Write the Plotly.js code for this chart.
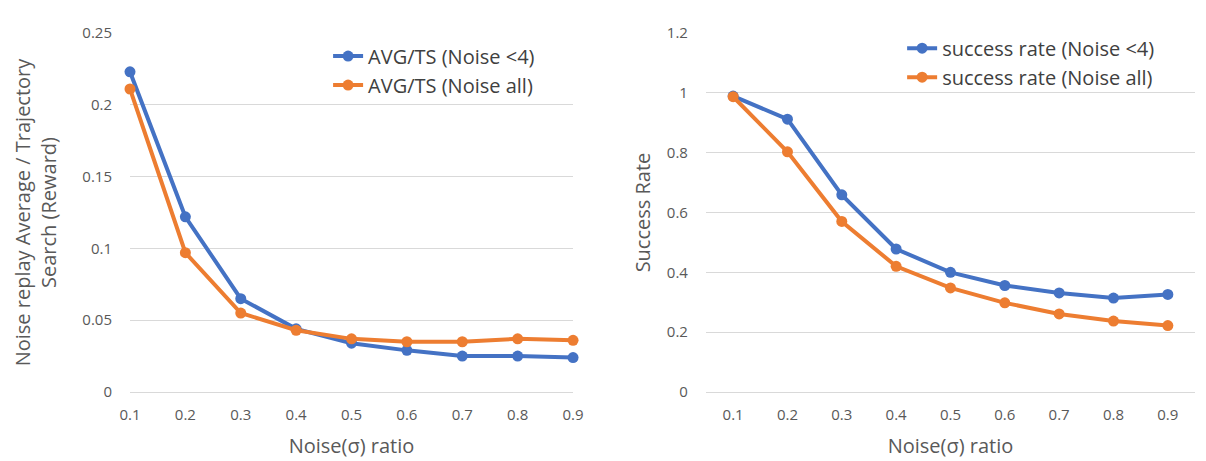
<!DOCTYPE html>
<html>
<head>
<meta charset="utf-8">
<script src="https://cdn.plot.ly/plotly-3.0.1.min.js"></script>
<style>
  html, body { margin: 0; padding: 0; background: #fff; }
  #chart { width: 1206px; height: 461px; }
</style>
</head>
<body>
<div id="chart"></div>
<script>
// Noise (sigma) ratio on both panels
const noiseRatio = [0.1, 0.2, 0.3, 0.4, 0.5, 0.6, 0.7, 0.8, 0.9];
const xTickText = ["0.1", "0.2", "0.3", "0.4", "0.5", "0.6", "0.7", "0.8", "0.9"];

// Left panel: noise replay average / trajectory search reward
const avgTsNoiseLt4 = [0.223, 0.122, 0.065, 0.044, 0.034, 0.029, 0.025, 0.025, 0.024];
const avgTsNoiseAll = [0.211, 0.097, 0.055, 0.043, 0.037, 0.035, 0.035, 0.037, 0.036];

// Right panel: success rate
const successNoiseLt4 = [0.989, 0.912, 0.659, 0.478, 0.400, 0.356, 0.331, 0.314, 0.326];
const successNoiseAll = [0.987, 0.803, 0.570, 0.420, 0.348, 0.298, 0.261, 0.237, 0.222];

const leftYTicks = [0, 0.05, 0.1, 0.15, 0.2, 0.25];
const leftYTickText = ["0", "0.05", "0.1", "0.15", "0.2", "0.25"];
const rightYTicks = [0, 0.2, 0.4, 0.6, 0.8, 1, 1.2];
const rightYTickText = ["0", "0.2", "0.4", "0.6", "0.8", "1", "1.2"];

const BLUE = "#4472C4";
const ORANGE = "#ED7D31";
const FONT = "Open Sans, Noto Sans, sans-serif";
const GRAY = "#595959";
const GRID = "#d9d9d9";

function series(x, y, name, color, xa, ya, legend) {
  return {
    type: "scatter", mode: "lines+markers",
    x: x, y: y, name: name,
    xaxis: xa, yaxis: ya, legend: legend,
    line: { color: color, width: 4 },
    marker: { color: color, size: 11 },
    cliponaxis: false,
    hoverinfo: "x+y+name"
  };
}

const traces = [
  series(noiseRatio, avgTsNoiseLt4, "AVG/TS (Noise <4)", BLUE, "x", "y", "legend"),
  series(noiseRatio, avgTsNoiseAll, "AVG/TS (Noise all)", ORANGE, "x", "y", "legend"),
  series(noiseRatio, successNoiseLt4, "success rate (Noise <4)", BLUE, "x2", "y2", "legend2"),
  series(noiseRatio, successNoiseAll, "success rate (Noise all)", ORANGE, "x2", "y2", "legend2")
];

const tickFont = { family: FONT, size: 15, color: GRAY };
const titleFont = { family: FONT, size: 20, color: GRAY };
const legendFont = { family: FONT, size: 20, color: "#404040" };

function xAxis(domain, range, anchor) {
  return {
    domain: domain, range: range, anchor: anchor,
    tickmode: "array", tickvals: noiseRatio, ticktext: xTickText,
    showgrid: false, zeroline: false, showline: false,
    ticks: "outside", ticklen: 9, tickcolor: "rgba(0,0,0,0)",
    tickfont: tickFont,
    title: { text: "Noise(σ) ratio", font: titleFont, standoff: 15 },
    fixedrange: true
  };
}

function yAxis(range, vals, text, title, standoff, anchor) {
  return {
    domain: [0, 1], range: range, anchor: anchor,
    tickmode: "array", tickvals: vals, ticktext: text,
    showgrid: true, gridcolor: GRID, gridwidth: 1,
    zeroline: true, zerolinecolor: GRID, zerolinewidth: 1,
    showline: false,
    ticks: "outside", ticklen: 14, tickcolor: "rgba(0,0,0,0)",
    tickfont: tickFont,
    title: { text: title, font: titleFont, standoff: standoff },
    fixedrange: true
  };
}

const layout = {
  width: 1206, height: 461,
  margin: { l: 130, r: 11, t: 33, b: 69 },
  paper_bgcolor: "#ffffff", plot_bgcolor: "#ffffff",
  font: { family: FONT, color: GRAY },
  xaxis: xAxis([0, 0.416], [0.1, 0.9], "y"),
  yaxis: yAxis([0, 0.25], leftYTicks, leftYTickText,
    "Noise replay Average / Trajectory<br>Search (Reward)", 20, "x"),
  xaxis2: xAxis([0.5408, 1], [0.05, 0.95], "y2"),
  yaxis2: yAxis([0, 1.2], rightYTicks, rightYTickText, "Success Rate", 10, "x2"),
  legend: {
    x: 0.186, y: 0.99, xanchor: "left", yanchor: "top",
    bgcolor: "rgba(255,255,255,0)", font: legendFont,
    tracegroupgap: 0
  },
  legend2: {
    x: 0.725, y: 1.012, xanchor: "left", yanchor: "top",
    bgcolor: "rgba(255,255,255,0)", font: legendFont,
    tracegroupgap: 0
  },
  showlegend: true
};

Plotly.newPlot("chart", traces, layout, { displayModeBar: false, staticPlot: true });
</script>
</body>
</html>
